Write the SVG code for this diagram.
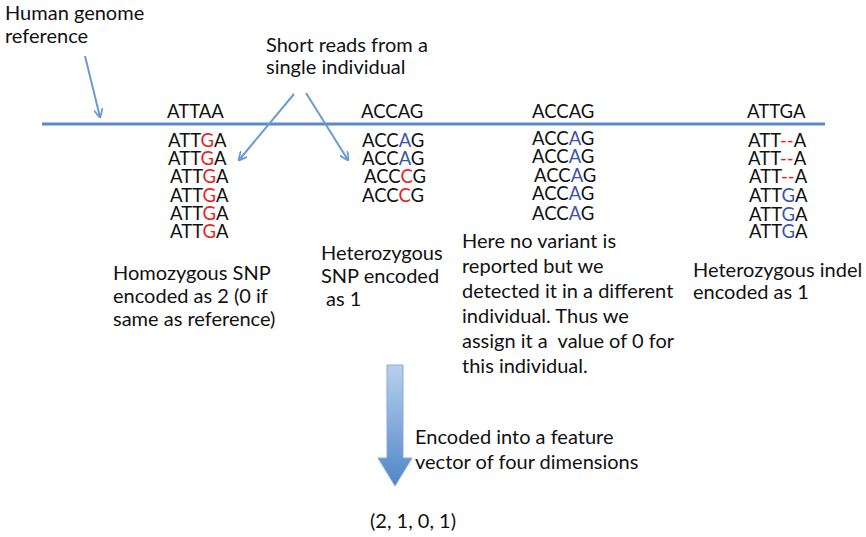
<svg xmlns="http://www.w3.org/2000/svg" width="866" height="537" viewBox="0 0 866 537">
<defs>
<style>
text{font-family:Lato,"Liberation Sans",sans-serif;font-size:20px;fill:#111111}
.seq{font-size:18.5px}
.r{fill:#e8231f}
.b{fill:#3b55a8}
.ptr{stroke:#6a9bd0;stroke-width:2;fill:none}
</style>
<marker id="ah" viewBox="0 0 10 10" refX="9" refY="5" markerWidth="9" markerHeight="9" orient="auto" markerUnits="userSpaceOnUse">
<path d="M0,0 L10,5 L0,10" fill="none" stroke="#6a9bd0" stroke-width="2"/>
</marker>
<linearGradient id="bg" x1="0" y1="0" x2="0" y2="1">
<stop offset="0" stop-color="#b9d0ec"/>
<stop offset="1" stop-color="#4f86c8"/>
</linearGradient>
</defs>
<rect width="866" height="537" fill="#ffffff"/>

<g id="reference-line">
<line x1="42" y1="124" x2="825" y2="124" stroke="#5b8ac6" stroke-width="3"/>
</g>

<g id="label-reference">
<text x="5" y="20">Human genome</text>
<text x="5" y="43">reference</text>
</g>

<g id="label-reads">
<text x="266" y="52">Short reads from a</text>
<text x="266" y="74">single individual</text>
</g>

<g id="site1">
<text class="seq" x="167" y="118">ATTAA</text>
<text class="seq" x="168" y="147">ATT<tspan class="r">G</tspan>A</text>
<text class="seq" x="168" y="165">ATT<tspan class="r">G</tspan>A</text>
<text class="seq" x="170" y="183">ATT<tspan class="r">G</tspan>A</text>
<text class="seq" x="170" y="202">ATT<tspan class="r">G</tspan>A</text>
<text class="seq" x="170" y="220">ATT<tspan class="r">G</tspan>A</text>
<text class="seq" x="170" y="238">ATT<tspan class="r">G</tspan>A</text>
<text x="113" y="280">Homozygous SNP</text>
<text x="113" y="303">encoded as 2 (0 if</text>
<text x="113" y="326">same as reference)</text>
</g>

<g id="site2">
<text class="seq" x="361" y="118">ACCAG</text>
<text class="seq" x="362" y="147">ACC<tspan class="b">A</tspan>G</text>
<text class="seq" x="362" y="165">ACC<tspan class="b">A</tspan>G</text>
<text class="seq" x="364" y="183">ACC<tspan class="r">C</tspan>G</text>
<text class="seq" x="362" y="202">ACC<tspan class="r">C</tspan>G</text>
<text x="321" y="260">Heterozygous</text>
<text x="321" y="283">SNP encoded</text>
<text x="321" y="306" xml:space="preserve"> as 1</text>
</g>

<g id="site3">
<text class="seq" x="532" y="118">ACCAG</text>
<text class="seq" x="532" y="145">ACC<tspan class="b">A</tspan>G</text>
<text class="seq" x="532" y="163">ACC<tspan class="b">A</tspan>G</text>
<text class="seq" x="534" y="182">ACC<tspan class="b">A</tspan>G</text>
<text class="seq" x="532" y="200">ACC<tspan class="b">A</tspan>G</text>
<text class="seq" x="532" y="220">ACC<tspan class="b">A</tspan>G</text>
<text x="462" y="248">Here no variant is</text>
<text x="462" y="273">reported but we</text>
<text x="462" y="298">detected it in a different</text>
<text x="462" y="323">individual. Thus we</text>
<text x="462" y="348" xml:space="preserve">assign it a  value of 0 for</text>
<text x="462" y="373">this individual.</text>
</g>

<g id="site4">
<text class="seq" x="747" y="118">ATTGA</text>
<text class="seq" x="748" y="147">ATT<tspan class="r">--</tspan>A</text>
<text class="seq" x="748" y="165">ATT<tspan class="r">--</tspan>A</text>
<text class="seq" x="749" y="183">ATT<tspan class="r">--</tspan>A</text>
<text class="seq" x="749" y="202">ATT<tspan class="b">G</tspan>A</text>
<text class="seq" x="749" y="221">ATT<tspan class="b">G</tspan>A</text>
<text class="seq" x="749" y="238">ATT<tspan class="b">G</tspan>A</text>
<text x="693" y="277">Heterozygous indel</text>
<text x="693" y="299">encoded as 1</text>
</g>

<g id="encode-arrow">
<path d="M387,365 L403,365 L403,458 L412,458 L395,486 L378,458 L387,458 Z" fill="url(#bg)" stroke="#86aad8" stroke-width="1"/>
<text x="415" y="444">Encoded into a feature</text>
<text x="415" y="469">vector of four dimensions</text>
</g>

<g id="result">
<text x="370" y="528">(2, 1, 0, 1)</text>
</g>

<g id="connectors">
<line class="ptr" x1="85" y1="56" x2="100" y2="117" marker-end="url(#ah)"/>
<line class="ptr" x1="294" y1="94" x2="239" y2="160" marker-end="url(#ah)"/>
<line class="ptr" x1="306" y1="93" x2="348" y2="160" marker-end="url(#ah)"/>
</g>
</svg>
